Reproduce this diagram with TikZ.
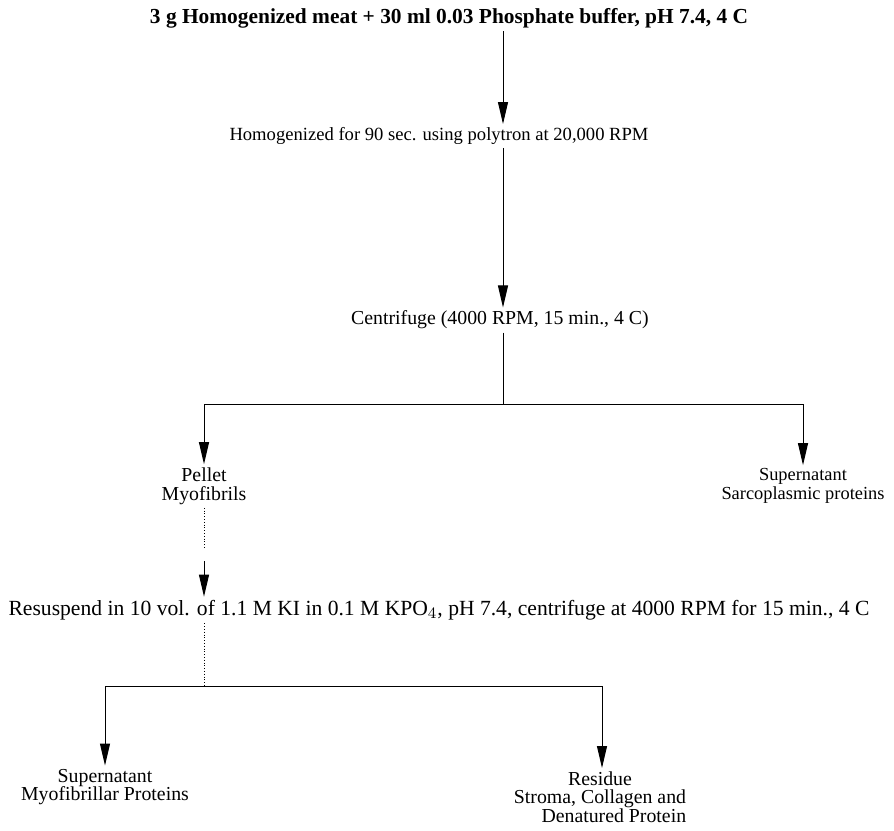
\documentclass[tikz,border=0pt]{standalone}
\usepackage{fontspec}
\setmainfont{Liberation Serif}
\usetikzlibrary{arrows.meta,positioning,calc}

\begin{document}
\begin{tikzpicture}[x=0.5pt,y=-0.5pt,
    txt/.style={font=\fontsize{9.9}{9.4}\selectfont,inner sep=1.5pt,align=center},
    boldtxt/.style={txt,font=\fontsize{10.7}{12}\selectfont\bfseries},
    link/.style={line width=0.5pt,black},
    arr/.style={link,-{Triangle[length=11pt,width=5pt]}},
    faint/.style={densely dotted,line width=0.4pt}]
  \useasboundingbox (0,0) rectangle (894,830);

  % main stem
  \node[boldtxt] (meat) at (449,18) {3 g Homogenized meat + 30 ml 0.03 Phosphate buffer, pH 7.4, 4 C};
  \node[txt,font=\fontsize{9.3}{11}\selectfont] (homog) at (439,136) {Homogenized for 90 sec. using polytron at 20,000 RPM};
  \node[txt] (cent) at (500,320) {Centrifuge (4000 RPM, 15 min., 4 C)};
  \coordinate (split1) at (503,404);
  \draw[arr] (meat.south -| split1) -- (homog.north -| split1);
  \draw[arr] (homog.south -| split1) -- (cent.north -| split1);
  \draw[link] (cent.south -| split1) -- (split1);

  % first split
  \node[txt] (pellet) at (204,486) {Pellet\\Myofibrils};
  \node[txt,font=\fontsize{9.2}{9.4}\selectfont] (sarco) at (803,486) {Supernatant\\Sarcoplasmic proteins};
  \draw[arr] (split1) -| (pellet.north);
  \draw[arr] (split1) -| (sarco.north);

  % resuspension
  \node[txt,font=\fontsize{10.8}{12}\selectfont] (resusp) at (439,610) {Resuspend in 10 vol. of 1.1 M KI in 0.1 M KPO$_4$, pH 7.4, centrifuge at 4000 RPM for 15 min., 4 C};
  \coordinate (split2) at (204,686);
  \draw[faint] (pellet.south) -- ($(pellet.south)!0.45!(resusp.north -| pellet)$);
  \draw[arr] ($(pellet.south)!0.6!(resusp.north -| pellet)$) -- (resusp.north -| pellet);
  \draw[faint] (resusp.south -| split2) -- (split2);

  % second split
  \node[txt] (myofib) at (105,787) {Supernatant\\Myofibrillar Proteins};
  \node[txt,anchor=north] (residue) at (600,768) {Residue\\Stroma, Collagen and\\\hspace*{1.4em}Denatured Protein};
  \draw[link] (split2) -- (602,686);
  \draw[arr] (split2) -| (myofib.north);
  \draw[arr] (split2) -| (residue.north -| 602,0);
\end{tikzpicture}
\end{document}
